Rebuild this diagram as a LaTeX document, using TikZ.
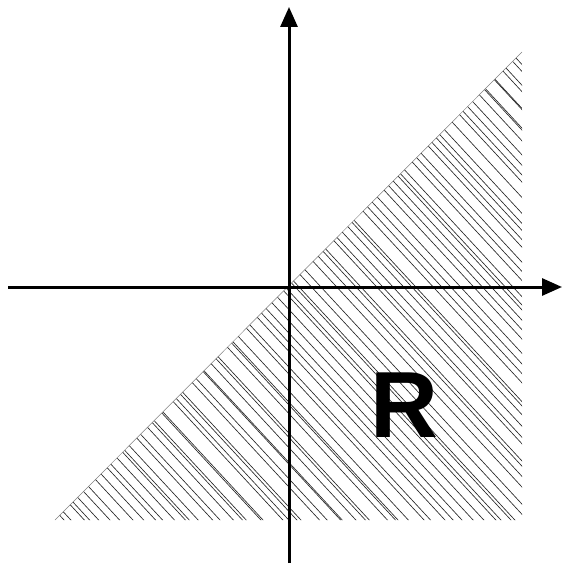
\documentclass[tikz,border=0pt]{standalone}
\usepackage{fontspec}
\setmainfont{Liberation Sans}
\usetikzlibrary{arrows.meta}
\begin{document}
\begin{tikzpicture}[x=1pt,y=-1pt,
  axis/.style={line width=3pt,-{Triangle[length=20pt,width=17pt]}},
  hatchline/.style={line width=0.65pt,black!85}]
\useasboundingbox (0,0) rectangle (562,564);
\coordinate (O) at (289,287);
\coordinate (A) at (55,520);
\coordinate (B) at (522,52);
\coordinate (C) at (522,520);
\begin{scope}
\clip (A) -- (B) -- (C) -- cycle;
\pgfmathsetseed{11}
\foreach \i in {0,...,99}{
  \pgfmathsetmacro{\hoff}{-480+9.7*\i+6*rand}
  \draw[hatchline] ({289+\hoff-300},{287-324}) -- ({289+\hoff+300},{287+324});
}
\end{scope}
\draw[gray,line width=0.5pt] (A) -- (B);
\coordinate (xl) at (8,287);
\coordinate (xr) at (562,287);
\coordinate (yb) at (289,563);
\coordinate (yt) at (289,7);
\draw[axis] (xl) -- (xr);
\draw[axis] (yb) -- (yt);
\node[font=\fontsize{94}{94}\selectfont\bfseries,anchor=base,inner sep=0pt] (R) at (404,437) {R};
\end{tikzpicture}
\end{document}
